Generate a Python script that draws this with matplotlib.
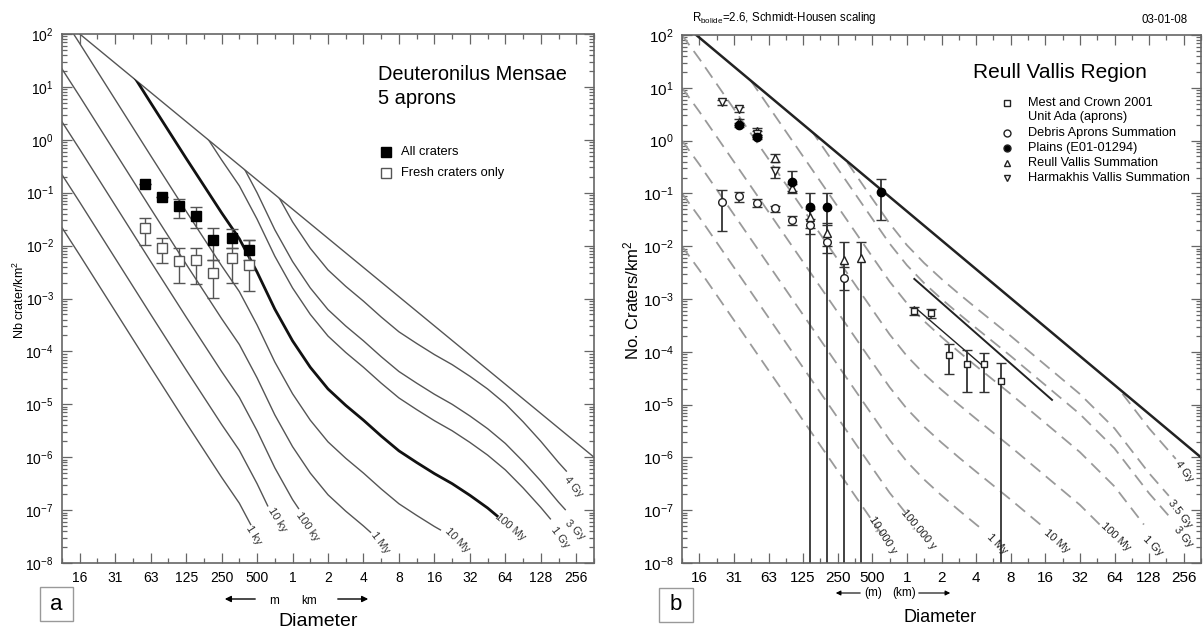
import numpy as np
import matplotlib
matplotlib.use("Agg")
import matplotlib.pyplot as plt
from matplotlib.patches import Polygon, Rectangle, FancyArrowPatch
from matplotlib.ticker import FixedLocator, FixedFormatter, LogLocator, NullFormatter

plt.rcParams['font.family'] = ['Liberation Sans', 'DejaVu Sans']
plt.rcParams['mathtext.fontset'] = 'custom'
plt.rcParams['mathtext.rm'] = 'Liberation Sans'
plt.rcParams['mathtext.it'] = 'Liberation Sans:italic'
plt.rcParams['mathtext.bf'] = 'Liberation Sans:bold'

W, H = 1203, 631

# ---------------- shared axes ----------------
bin_exp = list(range(-6, 9))          # bin diameters are 2**k km
bin_labels = ['16', '31', '63', '125', '250', '500', '1', '2', '4', '8',
              '16', '32', '64', '128', '256']
density_exp = list(range(-8, 3))

# ---------------- panel a: Deuteronilus Mensae ----------------
sat_a_D = [2 ** -6, 2 ** 8.5]
sat_a_N = [1e2, 1e-6]

# log10 density of the 100 My isochron (log2 D in km)
iso_a_k = [-6.5, -6, -5, -4, -3, -2, -1.5, -1, -0.5, 0, 0.5, 1, 1.5, 2, 2.5, 3,
           3.5, 4, 4.5, 5, 5.5, 6, 6.5, 7, 7.5, 8, 8.5]
iso_a_ref = [3.34, 2.82, 1.76, 0.70, -0.35, -1.38, -1.87, -2.50, -3.20, -3.80,
             -4.30, -4.71, -5.02, -5.30, -5.60, -5.88, -6.10, -6.31, -6.50,
             -6.72, -6.96, -7.24, -7.58, -7.95, -8.35, -8.72, -9.10]
iso_a_names = ['1 ky', '10 ky', '100 ky', '1 My', '10 My', '100 My',
               '1 Gy', '3 Gy', '4 Gy']
iso_a_shift = [-5, -4, -3, -2, -1, 0, 1, 1.5, 2.25]

a_D = [0.0555, 0.0774, 0.108, 0.151, 0.210, 0.304, 0.423]
a_all = [0.146, 0.083, 0.056, 0.036, 0.0129, 0.0139, 0.0083]
a_all_hi = [0.146, 0.083, 0.076, 0.0537, 0.0215, 0.0206, 0.0128]
a_all_lo = [0.146, 0.083, 0.0333, 0.0215, 0.00535, 0.00902, 0.00535]
a_fresh = [0.0215, 0.0090, 0.0051, 0.0053, 0.0030, 0.0059, 0.0043]
a_fresh_hi = [0.0333, 0.0139, 0.00902, 0.00902, 0.00535, 0.00902, 0.0128]
a_fresh_lo = [0.0103, 0.00469, 0.00196, 0.00188, 0.00102, 0.00196, 0.00139]

# ---------------- panel b: Reull Vallis region ----------------
sat_b_D = [0.0147, 2 ** 8.5]
sat_b_N = [1e2, 1e-6]

# log10 density of the 1 Gy isochron (log2 D in km)
iso_b_k = [-6.5, -6, -5, -4, -3, -2, -1, -0.5, 0, 0.5, 1, 1.5, 2, 3, 4, 5, 6,
           7, 8, 8.5]
iso_b_ref = [3.00, 2.55, 1.60, 0.65, -0.30, -1.25, -2.20, -2.67, -3.08, -3.42,
             -3.72, -4.00, -4.27, -4.80, -5.35, -5.90, -6.55, -7.40, -8.15, -8.50]
iso_b_names = ['10,000 y', '100,000 y', '1 My', '10 My', '100 My', '1 Gy',
               '3 Gy', '3.5 Gy', '4 Gy']
iso_b_shift = [-5, -4, -3, -2, -1, 0, 0.72, 1.1, 1.95]

# fitted lines through the kilometre-size craters
fit1_D = [1.16, 18.3]
fit1_N = [2.4e-3, 1.23e-5]
fit2_D = [1.16, 4.5]
fit2_N = [7.1e-4, 5.6e-5]

# Mest and Crown 2001, unit Ada
mc_D = [1.16, 1.62, 2.33, 3.34, 4.69, 6.59]
mc_N = [5.9e-4, 5.4e-4, 8.7e-5, 5.9e-5, 5.9e-5, 2.8e-5]
mc_hi = [7.1e-4, 6.5e-4, 1.4e-4, 1.07e-4, 9.5e-5, 6.2e-5]
mc_lo = [5.0e-4, 4.4e-4, 3.8e-5, 1.74e-5, 1.74e-5, 1e-9]

# debris aprons summation
da_D = [0.0247, 0.0347, 0.0497, 0.0713, 0.1001, 0.1436, 0.203, 0.285]
da_N = [0.070, 0.089, 0.066, 0.052, 0.031, 0.025, 0.012, 0.0025]
da_hi = [0.116, 0.107, 0.078, 0.058, 0.037, 0.033, 0.028, 0.0040]
da_lo = [0.0197, 0.070, 0.056, 0.045, 0.025, 0.017, 0.0075, 0.0015]

# plains (E01-01294)
pl_D = [0.0347, 0.0497, 0.1001, 0.1436, 0.203, 0.594]
pl_N = [2.0, 1.17, 0.166, 0.055, 0.055, 0.107]
pl_hi = [2.2, 1.3, 0.26, 0.104, 0.104, 0.19]
pl_lo = [1.8, 1.05, 0.11, 1e-9, 1e-9, 0.032]

# Reull Vallis summation
rv_D = [0.0347, 0.0497, 0.0713, 0.1001, 0.1436, 0.203, 0.285, 0.401]
rv_N = [2.3, 1.5, 0.47, 0.125, 0.035, 0.018, 0.0055, 0.006]
rv_hi = [2.6, 1.7, 0.55, 0.15, 0.05, 0.025, 0.012, 0.012]
rv_lo = [2.0, 1.3, 0.40, 0.10, 0.022, 0.010, 1e-9, 1e-9]

# Harmakhis Vallis summation
hv_D = [0.0247, 0.0347, 0.0497, 0.0713]
hv_N = [5.3, 4.0, 1.35, 0.26]
hv_hi = [5.9, 4.4, 1.55, 0.32]
hv_lo = [4.7, 3.5, 1.15, 0.195]


def fxy(px, py):
    return px / W, 1 - py / H


def setup_axes(ax, lab_size):
    ax.set_xscale('log', base=2)
    ax.set_yscale('log')
    ax.set_xlim(2 ** -6.5, 2 ** 8.5)
    ax.set_ylim(1e-8, 1e2)
    ax.xaxis.set_major_locator(FixedLocator([2.0 ** k for k in bin_exp]))
    ax.xaxis.set_major_formatter(FixedFormatter(bin_labels))
    ax.xaxis.set_minor_locator(FixedLocator([2.0 ** (k + 0.5) for k in range(-7, 9)]))
    ax.xaxis.set_minor_formatter(NullFormatter())
    ax.yaxis.set_major_locator(FixedLocator([10.0 ** e for e in density_exp]))
    ax.yaxis.set_major_formatter(FixedFormatter([r'$10^{%d}$' % e for e in density_exp]))
    ax.yaxis.set_minor_locator(LogLocator(base=10, subs=range(2, 10), numticks=20))
    ax.yaxis.set_minor_formatter(NullFormatter())
    ax.tick_params(which='both', direction='in', top=True, right=True,
                   color='#666666', width=0.9)
    ax.tick_params(which='major', length=7, labelsize=lab_size, pad=6)
    ax.tick_params(which='minor', length=3.5)
    for s in ax.spines.values():
        s.set_color('#666666')
        s.set_linewidth(1.2)


def below_line(ax, D, N):
    verts = [(2 ** -9, 1e4), (D[0], N[0]), (D[1], N[1]), (2 ** 10, 1e-14), (2 ** -9, 1e-14)]
    return Polygon(verts, closed=True, transform=ax.transData)


def isochron(ax, k_tab, ref, shift, kend, clip, **style):
    k = np.asarray(k_tab, float)
    v = np.asarray(ref, float) + shift
    keep = k < kend
    kk = np.append(k[keep], kend)
    vv = np.append(v[keep], np.interp(kend, k, v))
    line, = ax.plot(2.0 ** kk, 10.0 ** vv, solid_joinstyle='round', **style)
    line.set_clip_path(clip)
    return line


def errbars(ax, D, N, lo, hi, **kw):
    N = np.asarray(N)
    yerr = [N - np.asarray(lo), np.asarray(hi) - N]
    ax.errorbar(D, N, yerr=yerr, **kw)


def arrow(p0, p1, scale, lw):
    fig.add_artist(FancyArrowPatch(fxy(*p0), fxy(*p1), transform=fig.transFigure,
                                   arrowstyle='-|>', mutation_scale=scale,
                                   color='black', lw=lw))


fig = plt.figure(figsize=(W / 100, H / 100), dpi=100)

# ======================= panel a =======================
axa = fig.add_axes([62 / W, 1 - 563 / H, 532 / W, 529 / H])
setup_axes(axa, 10)

clip_a = below_line(axa, sat_a_D, sat_a_N)
axa.plot(sat_a_D, sat_a_N, color='#555555', lw=1.0)

a_end_k = [-1.18, -0.70, 0.17, 2.2, 4.17, 5.77, 7.27, 7.69, 7.72]
a_lab_pos = [(-1.10, -7.47), (-0.42, -7.19), (0.42, -7.32), (2.48, -7.62),
             (4.65, -7.57), (6.14, -7.32), (7.55, -7.51), (7.97, -7.38), (7.92, -6.56)]
a_lab_rot = [-58, -58, -55, -53, -45, -40, -53, -45, -50]
for name, sh, ke, (lk, ln), rot in zip(iso_a_names, iso_a_shift, a_end_k, a_lab_pos, a_lab_rot):
    thick = name == '100 My'
    isochron(axa, iso_a_k, iso_a_ref, sh, ke, clip_a,
             color='#111111' if thick else '#555555', lw=2.0 if thick else 1.0)
    axa.text(2.0 ** lk, 10.0 ** ln, name, rotation=rot, ha='center', va='center',
             rotation_mode='anchor', fontsize=8, color='#333333')

errbars(axa, a_D, a_fresh, a_fresh_lo, a_fresh_hi, fmt='none', ecolor='#555555',
        elinewidth=1.0, capsize=4, capthick=1.0)
errbars(axa, a_D, a_all, a_all_lo, a_all_hi, fmt='none', ecolor='#555555',
        elinewidth=1.0, capsize=4, capthick=1.0)
axa.plot(a_D, a_fresh, 's', ms=7, mfc='white', mec='#555555', mew=1.0)
axa.plot(a_D, a_all, 's', ms=7.5, mfc='black', mec='black')

fig.text(*fxy(19, 300), 'Nb crater/km$^2$', rotation=90, ha='center', va='center', fontsize=9)
fig.text(*fxy(318, 622), 'Diameter', ha='center', va='center', fontsize=14)
fig.text(*fxy(274, 601), 'm', ha='center', va='center', fontsize=8.5)
fig.text(*fxy(309, 601), 'km', ha='center', va='center', fontsize=8.5)
arrow((258, 599), (222, 599), 9, 1.0)
arrow((335, 599), (371, 599), 9, 1.0)
fig.add_artist(Rectangle(fxy(40, 621), 33 / W, 34 / H, transform=fig.transFigure,
                         fill=False, edgecolor='#999999', lw=1.0))
fig.text(*fxy(56.5, 604), 'a', ha='center', va='center', fontsize=16)

fig.text(*fxy(378, 74), 'Deuteronilus Mensae', ha='left', va='center', fontsize=14.4)
fig.text(*fxy(378, 98), '5 aprons', ha='left', va='center', fontsize=14.4)
axa.plot(*fxy(386, 152), 's', ms=7, mfc='black', mec='black', transform=fig.transFigure, clip_on=False)
axa.plot(*fxy(386, 173), 's', ms=6.5, mfc='white', mec='#555555', transform=fig.transFigure, clip_on=False)
fig.text(*fxy(401, 152), 'All craters', ha='left', va='center', fontsize=9.3)
fig.text(*fxy(401, 173), 'Fresh craters only', ha='left', va='center', fontsize=9.3)

# ======================= panel b =======================
axb = fig.add_axes([682 / W, 1 - 563 / H, 519 / W, 528 / H])
setup_axes(axb, 11)

clip_b = below_line(axb, sat_b_D, sat_b_N)
b_end_k = [-0.72, 0.06, 2.23, 3.96, 5.69, 6.85, 7.63, 7.57, 7.77]
b_lab_pos = [(-0.69, -7.47), (0.32, -7.36), (2.60, -7.64), (4.34, -7.58), (6.04, -7.51),
             (7.11, -7.68), (8.0, -7.51), (7.89, -7.07), (8.0, -6.26)]
b_lab_rot = [-57, -50, -45, -41, -43, -45, -50, -52, -53]
for name, sh, ke, (lk, ln), rot in zip(iso_b_names, iso_b_shift, b_end_k, b_lab_pos, b_lab_rot):
    isochron(axb, iso_b_k, iso_b_ref, sh, ke, clip_b, color='#9a9a9a', lw=1.3,
             dashes=(7, 4))
    axb.text(2.0 ** lk, 10.0 ** ln, name, rotation=rot, ha='center', va='center',
             rotation_mode='anchor', fontsize=8, color='#222222')

axb.plot(sat_b_D, sat_b_N, color='#222222', lw=1.8)
axb.plot(fit1_D, fit1_N, color='#222222', lw=1.4)
axb.plot(fit2_D, fit2_N, color='#222222', lw=1.0)

ekw = dict(fmt='none', ecolor='#333333', elinewidth=1.3, capsize=3.5, capthick=1.0)
errbars(axb, mc_D, mc_N, mc_lo, mc_hi, **ekw)
errbars(axb, da_D, da_N, da_lo, da_hi, **ekw)
errbars(axb, pl_D, pl_N, pl_lo, pl_hi, **ekw)
errbars(axb, rv_D, rv_N, rv_lo, rv_hi, **ekw)
errbars(axb, hv_D, hv_N, hv_lo, hv_hi, **ekw)
mk = dict(ls='none', mfc='white', mec='#222222', mew=1.0)
axb.plot(mc_D, mc_N, 's', ms=5, **mk)
axb.plot(da_D, da_N, 'o', ms=5.5, **mk)
axb.plot(rv_D, rv_N, '^', ms=5.5, **mk)
axb.plot(hv_D, hv_N, 'v', ms=5.5, **mk)
axb.plot(pl_D, pl_N, 'o', ms=6, ls='none', mfc='black', mec='black')

fig.text(*fxy(631, 300), 'No. Craters/km$^2$', rotation=90, ha='center', va='center', fontsize=12)
fig.text(*fxy(940, 618), 'Diameter', ha='center', va='center', fontsize=13)
fig.text(*fxy(873, 593), '(m)', ha='center', va='center', fontsize=8.5)
fig.text(*fxy(904, 593), '(km)', ha='center', va='center', fontsize=8.5)
arrow((863, 593), (833, 593), 7, 0.8)
arrow((916, 593), (953, 593), 7, 0.8)
fig.add_artist(Rectangle(fxy(659, 622), 34 / W, 34 / H, transform=fig.transFigure,
                         fill=False, edgecolor='#999999', lw=1.0))
fig.text(*fxy(676, 605), 'b', ha='center', va='center', fontsize=16)

fig.text(*fxy(692, 18), r'R$_{\rm bolide}$=2.6, Schmidt-Housen scaling', ha='left', va='center', fontsize=8.3)
fig.text(*fxy(1188, 20), '03-01-08', ha='right', va='center', fontsize=8.3)
fig.text(*fxy(1060, 72), 'Reull Vallis Region', ha='center', va='center', fontsize=15)

leg_rows = [(103, 's', 'white', 'Mest and Crown 2001'), (117, None, None, 'Unit Ada (aprons)'),
            (133, 'o', 'white', 'Debris Aprons Summation'), (148, 'o', 'black', 'Plains (E01-01294)'),
            (163, '^', 'white', 'Reull Vallis Summation'), (178, 'v', 'white', 'Harmakhis Vallis Summation')]
for y, m, fc, txt in leg_rows:
    if m is not None:
        axb.plot(*fxy(1007, y), m, ms=5, mfc=fc, mec='#222222', mew=1.0,
                 transform=fig.transFigure, clip_on=False)
    fig.text(*fxy(1028, y), txt, ha='left', va='center', fontsize=9.2)

fig.savefig('out.png', dpi=100)
